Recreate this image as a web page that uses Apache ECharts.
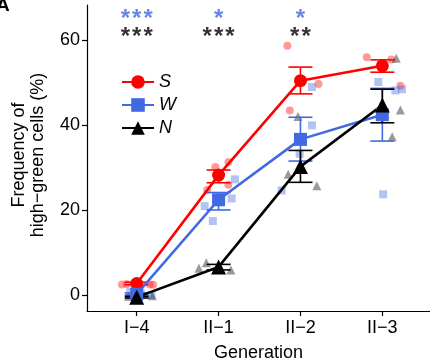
<!DOCTYPE html>
<html><head><meta charset="utf-8">
<script src="https://cdn.jsdelivr.net/npm/echarts@6/dist/echarts.min.js"></script>
<style>html,body{margin:0;padding:0;background:#fff}#c{width:430px;height:362px}</style>
</head><body><div id="c"></div>
<script>
// ---- data ----
var generations = ['I−4', 'II−1', 'II−2', 'II−3'];
var genPos = [1, 2, 3, 4];
var yTicks = [0, 20, 40, 60];

var meanS = [2.7, 28.2, 50.4, 53.9];
var lowS  = [2.4, 26.4, 47.3, 52.4];
var highS = [3.0, 29.4, 53.6, 55.3];

var meanW = [0.2, 22.4, 36.6, 42.4];
var lowW  = [0.0, 20.0, 31.5, 36.2];
var highW = [0.5, 24.1, 41.8, 48.6];

var meanN = [-0.5, 6.6, 30.2, 44.7];
var lowN  = [-0.7, 5.9, 26.5, 40.5];
var highN = [-0.3, 7.2, 34.0, 48.4];

// individual replicates: [x position (generation + jitter), value]
var ptsS = [[0.82,2.5],[0.88,2.6],[1.16,2.5],[1.20,2.4],
            [1.96,30.1],[2.12,31.3],[1.86,24.7],[2.12,25.9],
            [2.84,58.6],[3.22,49.6],[2.87,43.4],
            [3.81,55.9],[4.11,55.4],[4.22,49.2]];
var ptsW = [[0.92,0.8],[1.05,0.3],[1.18,0.0],
            [2.20,27.2],[2.16,22.7],[1.83,20.9],[1.93,17.4],
            [3.14,48.9],[3.14,39.9],[2.77,24.6],[2.99,33.2],
            [3.95,50.1],[4.16,48.1],[4.24,48.4],[4.01,23.7]];
var ptsN = [[0.90,-0.3],[1.19,-0.2],
            [1.76,6.3],[1.85,7.6],[2.15,5.9],
            [2.97,42.0],[2.85,28.4],[3.20,25.7],
            [4.17,55.7],[4.22,43.5],[4.12,37.2]];

var starsW = ['***', '*', '*'];
var starsN = ['***', '***', '**'];
var starPos = [1, 2, 3];

// ---- build ----
var FONT = "'Liberation Sans', Arial, sans-serif";
var RED = '#FF0000', BLUE = '#4169E1', BLACK = '#000000';

function zip(xs, ys){ return xs.map(function(x,i){ return [x, ys[i]]; }); }
function errData(lo, hi){ return genPos.map(function(x,i){ return [x, lo[i], hi[i]]; }); }
function errSeries(name, lo, hi, color){
  return {
    type:'custom', name:name, data: errData(lo,hi), z:4,
    renderItem: function(params, api){
      var a = api.coord([api.value(0), api.value(1)]);
      var b = api.coord([api.value(0), api.value(2)]);
      var w = 12;
      var st = {stroke: color, lineWidth: 1.6};
      return {type:'group', children:[
        {type:'line', shape:{x1:a[0], y1:a[1], x2:b[0], y2:b[1]}, style:st},
        {type:'line', shape:{x1:a[0]-w, y1:a[1], x2:a[0]+w, y2:a[1]}, style:st},
        {type:'line', shape:{x1:b[0]-w, y1:b[1], x2:b[0]+w, y2:b[1]}, style:st}
      ]};
    }
  };
}
function ptSeries(name, data, symbol, color, size){
  return {type:'scatter', name:name, data:data, symbol:symbol, symbolSize:size,
    itemStyle:{color:color}, z:2, silent:true};
}
function lineSeries(name, data, symbol, color, size){
  return {type:'line', name:name, data:data, symbol:symbol, symbolSize:size,
    lineStyle:{color:color, width:2.6}, itemStyle:{color:color}, z:5};
}
function starSeries(name, labels, yv, color){
  return {type:'scatter', name:name, symbol:'circle', symbolSize:1, z:6, silent:true,
    itemStyle:{color:'rgba(0,0,0,0)'},
    data: starPos.map(function(x,i){ return [x, yv, labels[i]]; }),
    label:{show:true, position:'inside',
      formatter:function(p){ return String(p.value[2]).split('').join('\u200A'); },
      color:color, fontSize:24, fontWeight:'bold', fontFamily:FONT, align:'center', verticalAlign:'middle'}};
}

var chart = echarts.init(document.getElementById('c'), null, {renderer:'canvas'});
chart.setOption({
  animation:false,
  textStyle:{fontFamily:FONT},
  grid:{left:87, right:0, top:5, bottom:51, containLabel:false, outerBoundsMode:'none'},
  xAxis:{type:'value', min:0.393, max:4.582,
    name:'Generation', nameLocation:'middle', nameGap:33,
    nameTextStyle:{color:'#000', fontSize:18, fontFamily:FONT},
    splitLine:{show:false},
    axisLine:{show:true, onZero:false, lineStyle:{color:'#000', width:1.2}},
    axisTick:{show:true, length:5, lineStyle:{color:'#000', width:1.2}, customValues:genPos},
    axisLabel:{color:'#000', fontSize:18, fontFamily:FONT, margin:8, customValues:genPos,
      formatter:function(v){ var i = genPos.indexOf(Math.round(v)); return i>=0 ? generations[i] : ''; }}
  },
  yAxis:{type:'value', min:-3.76, max:68.2,
    splitLine:{show:false},
    axisLine:{show:true, onZero:false, lineStyle:{color:'#000', width:1.2}},
    axisTick:{show:true, length:5, lineStyle:{color:'#000', width:1.2}, customValues:yTicks},
    axisLabel:{color:'#000', fontSize:18, fontFamily:FONT, margin:7, customValues:yTicks}
  },
  legend:{orient:'vertical', left:116, top:68, itemGap:5, itemWidth:32, itemHeight:17,
    data:['S','W','N'],
    textStyle:{fontSize:18, fontStyle:'italic', color:'#000', fontFamily:FONT}},
  graphic:[
    {type:'text', left:-4, top:-4, style:{text:'A', font:'bold 19px '+FONT, fill:'#000'}},
    {type:'text', x:29, y:155, rotation:Math.PI/2,
      style:{text:'Frequency of\nhigh−green cells (%)', font:'18px '+FONT, fill:'#000',
        textAlign:'center', textVerticalAlign:'middle', lineHeight:19}}
  ],
  series:[
    ptSeries('S pts', ptsS, 'circle', 'rgba(255,0,0,0.5)', 8),
    ptSeries('W pts', ptsW, 'rect', 'rgba(65,105,225,0.5)', 8),
    ptSeries('N pts', ptsN, 'triangle', 'rgba(0,0,0,0.5)', 9),
    lineSeries('S', zip(genPos, meanS), 'circle', RED, 13),
    errSeries('S err', lowS, highS, RED),
    lineSeries('W', zip(genPos, meanW), 'rect', BLUE, 13),
    errSeries('W err', lowW, highW, BLUE),
    lineSeries('N', zip(genPos, meanN), 'triangle', BLACK, 15),
    errSeries('N err', lowN, highN, BLACK),
    starSeries('sigW', starsW, 64.8, BLUE),
    starSeries('sigN', starsN, 60.6, BLACK)
  ]
});
</script></body></html>
